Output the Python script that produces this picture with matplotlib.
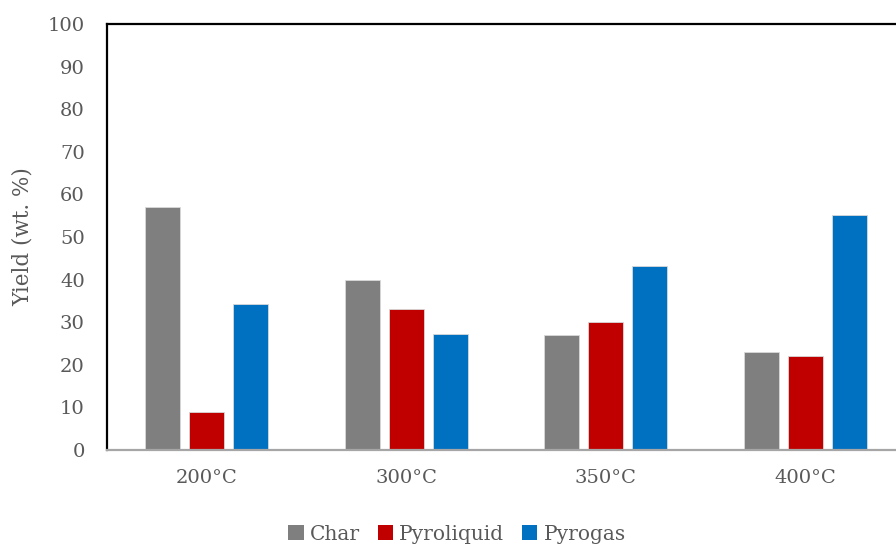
import numpy as np
import matplotlib
matplotlib.use("Agg")
import matplotlib.pyplot as plt
from matplotlib.patches import Patch

temperatures = ["200°C", "300°C", "350°C", "400°C"]
char = [57, 40, 27, 23]
pyroliquid = [9, 33, 30, 22]
pyrogas = [34.3, 27.2, 43.2, 55.2]

series = [
    ("Char", char, "#7F7F7F"),
    ("Pyroliquid", pyroliquid, "#C00000"),
    ("Pyrogas", pyrogas, "#0070C0"),
]

text_color = "#595959"
plt.rcParams.update({
    "font.family": ["DejaVu Serif"],
    "font.size": 14,
})

fig = plt.figure(figsize=(8.96, 5.46), dpi=100)
ax = fig.add_axes([107 / 896, 96 / 546, 798 / 896, 426 / 546])

x = np.arange(len(temperatures))
width = 0.175
step = 0.22
for i, (name, vals, color) in enumerate(series):
    ax.bar(x + (i - 1) * step, vals, width, color=color,
           edgecolor="#d9d9d9", linewidth=0.6, label=name, zorder=2)

ax.set_xlim(-0.5, len(temperatures) - 0.5)
ax.set_ylim(0, 100)
ax.set_yticks(range(0, 101, 10))
ax.set_xticks(x)
ax.set_xticklabels(temperatures)
ax.tick_params(axis="both", length=0, colors=text_color, labelsize=14)
ax.tick_params(axis="y", pad=16)
ax.tick_params(axis="x", pad=14)

ax.spines["left"].set_color("black")
ax.spines["left"].set_linewidth(1.6)
ax.spines["top"].set_color("black")
ax.spines["top"].set_linewidth(1.6)
ax.spines["right"].set_visible(False)
ax.spines["bottom"].set_color("#A6A6A6")
ax.spines["bottom"].set_linewidth(1.6)

ax.set_ylabel("Yield (wt. %)", color=text_color, fontsize=15.5, labelpad=10)

handles = [Patch(facecolor=c, edgecolor="none", label=n) for n, _, c in series]
fig.legend(handles=handles, loc="center", bbox_to_anchor=(457 / 896, 1 - 534 / 546),
           ncol=3, frameon=False, fontsize=14.5, handlelength=0.75, handleheight=0.75,
           handletextpad=0.3, columnspacing=0.9, labelcolor=text_color)

fig.savefig("out.png", dpi=100)
